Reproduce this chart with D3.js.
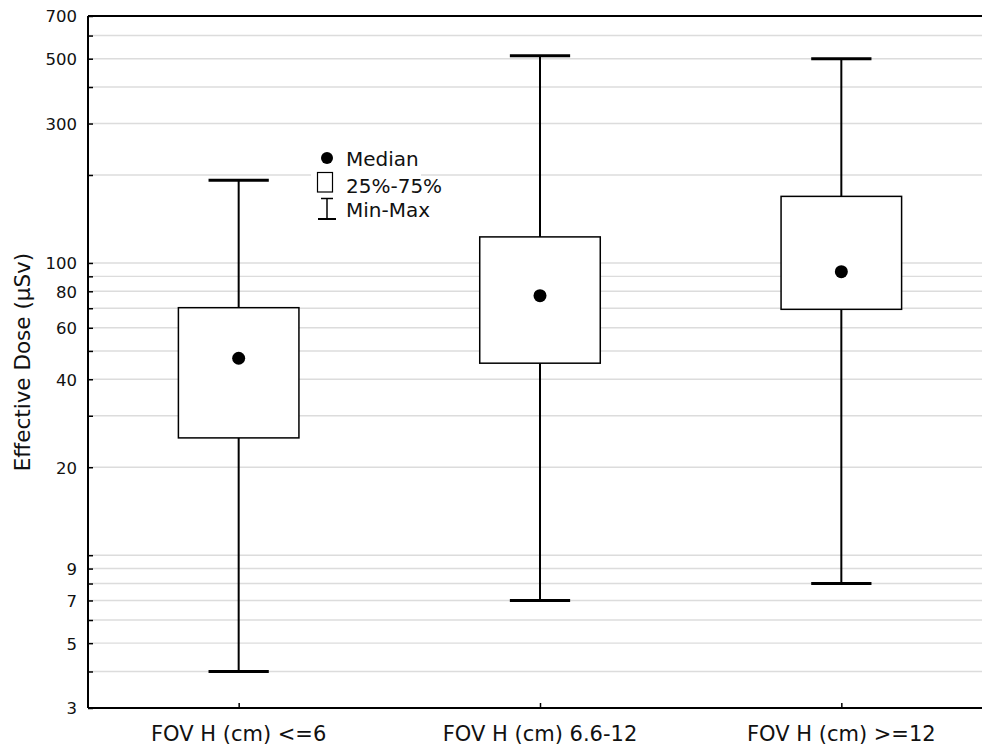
<!DOCTYPE html>
<html>
<head>
<meta charset="utf-8">
<script src="https://cdn.jsdelivr.net/npm/d3@7"></script>
<style>
  html, body { margin: 0; padding: 0; background: #fff; overflow: hidden; }
  svg { display: block; font-family: "DejaVu Sans", Verdana, sans-serif; }
</style>
</head>
<body>
<svg id="chart" width="982" height="747"></svg>
<script>
// Effective dose by horizontal field of view
const categories = ["FOV H (cm) <=6", "FOV H (cm) 6.6-12", "FOV H (cm) >=12"];
const minValues    = [4, 7, 8];
const q1Values     = [25.2, 45.4, 69.4];
const medianValues = [47.2, 77.3, 93.4];
const q3Values     = [70.3, 122.8, 169];
const maxValues    = [192, 512, 500];

const gridValues  = [3,4,5,6,7,8,9,10,20,30,40,50,60,70,80,90,100,200,300,400,500,600,700];
const labelValues = [3,5,7,9,20,40,60,80,100,300,500,700];
const legendItems = ["Median", "25%-75%", "Min-Max"];

const svg = d3.select("#chart");
const plotLeft = 88, plotRight = 992, plotTop = 16, plotBottom = 708;

const x = d3.scalePoint().domain(categories).range([plotLeft, plotRight]).padding(0.5);
const y = d3.scaleLog().domain([3, 700]).range([plotBottom, plotTop]);
const step = x.step();
const boxW = step * 0.4;
const capW = step * 0.2;

// horizontal grid
svg.append("g").selectAll("line").data(gridValues).join("line")
  .attr("x1", plotLeft).attr("x2", 982)
  .attr("y1", d => y(d)).attr("y2", d => y(d))
  .attr("stroke", "#dcdcdc").attr("stroke-width", 1.4);

// y axis: ticks inside the plot, labels on a subset
const yAxis = d3.axisRight(y).tickValues(gridValues).tickSize(5)
  .tickFormat(d => labelValues.includes(d) ? d : "");
const gy = svg.append("g").attr("transform", `translate(${plotLeft},0)`).call(yAxis);
gy.select(".domain").remove();
gy.selectAll(".tick line").attr("stroke", "#000").attr("stroke-width", 1.5);
gy.selectAll(".tick text")
  .attr("x", -11).attr("text-anchor", "end").attr("dy", "0.36em")
  .attr("font-size", 16.5).attr("font-family", "DejaVu Sans").attr("fill", "#111");

// x axis: ticks inside
const xAxis = d3.axisTop(x).tickSize(5).tickFormat("");
const gx = svg.append("g").attr("transform", `translate(0,${plotBottom})`).call(xAxis);
gx.select(".domain").remove();
gx.selectAll(".tick line").attr("stroke", "#000").attr("stroke-width", 1.5);

svg.append("g").selectAll("text").data(categories).join("text")
  .attr("x", d => x(d)).attr("y", 741)
  .attr("text-anchor", "middle").attr("font-size", 21).attr("fill", "#111")
  .text(d => d);

// frame lines
svg.append("line").attr("x1", plotLeft).attr("x2", 982).attr("y1", plotTop).attr("y2", plotTop)
  .attr("stroke", "#000").attr("stroke-width", 2);
svg.append("line").attr("x1", plotLeft).attr("x2", 982).attr("y1", plotBottom).attr("y2", plotBottom)
  .attr("stroke", "#000").attr("stroke-width", 2);
svg.append("line").attr("x1", plotLeft).attr("x2", plotLeft).attr("y1", plotTop).attr("y2", plotBottom)
  .attr("stroke", "#000").attr("stroke-width", 2);

// y title
svg.append("text")
  .attr("transform", `translate(30,${(plotTop + plotBottom) / 2}) rotate(-90)`)
  .attr("text-anchor", "middle").attr("font-size", 21.5).attr("fill", "#111")
  .text("Effective Dose (µSv)");

// boxes
const data = categories.map((c, i) => ({
  c, min: minValues[i], q1: q1Values[i], med: medianValues[i], q3: q3Values[i], max: maxValues[i]
}));
const g = svg.append("g").selectAll("g").data(data).join("g");

g.append("line").attr("x1", d => x(d.c)).attr("x2", d => x(d.c))
  .attr("y1", d => y(d.max)).attr("y2", d => y(d.q3))
  .attr("stroke", "#000").attr("stroke-width", 2);
g.append("line").attr("x1", d => x(d.c)).attr("x2", d => x(d.c))
  .attr("y1", d => y(d.q1)).attr("y2", d => y(d.min))
  .attr("stroke", "#000").attr("stroke-width", 2);
g.append("line").attr("x1", d => x(d.c) - capW / 2).attr("x2", d => x(d.c) + capW / 2)
  .attr("y1", d => y(d.max)).attr("y2", d => y(d.max))
  .attr("stroke", "#000").attr("stroke-width", 3);
g.append("line").attr("x1", d => x(d.c) - capW / 2).attr("x2", d => x(d.c) + capW / 2)
  .attr("y1", d => y(d.min)).attr("y2", d => y(d.min))
  .attr("stroke", "#000").attr("stroke-width", 3);
g.append("rect")
  .attr("x", d => x(d.c) - boxW / 2).attr("width", boxW)
  .attr("y", d => y(d.q3)).attr("height", d => y(d.q1) - y(d.q3))
  .attr("fill", "#fff").attr("stroke", "#000").attr("stroke-width", 1.5);
g.append("circle").attr("cx", d => x(d.c)).attr("cy", d => y(d.med)).attr("r", 6.5)
  .attr("fill", "#000");

// legend
const lg = svg.append("g").attr("transform", "translate(327,0)");
lg.append("rect").attr("x", -16).attr("y", 146).attr("width", 110).attr("height", 78).attr("fill", "#fff");
lg.append("circle").attr("cx", 0).attr("cy", 158).attr("r", 6).attr("fill", "#000");
lg.append("rect").attr("x", -9.5).attr("y", 172.5).attr("width", 15).attr("height", 19.5)
  .attr("fill", "#fff").attr("stroke", "#000").attr("stroke-width", 1.2);
lg.append("line").attr("x1", 0).attr("x2", 0).attr("y1", 198).attr("y2", 219)
  .attr("stroke", "#000").attr("stroke-width", 1.5);
lg.append("line").attr("x1", -6).attr("x2", 6).attr("y1", 198.5).attr("y2", 198.5)
  .attr("stroke", "#000").attr("stroke-width", 1.5);
lg.append("line").attr("x1", -9).attr("x2", 9).attr("y1", 219).attr("y2", 219)
  .attr("stroke", "#000").attr("stroke-width", 2);
lg.selectAll("text.leg").data(legendItems).join("text").attr("class", "leg")
  .attr("x", 19).attr("y", (d, i) => [166, 193, 217][i])
  .attr("font-size", 20).attr("fill", "#111").text(d => d);
</script>
</body>
</html>
